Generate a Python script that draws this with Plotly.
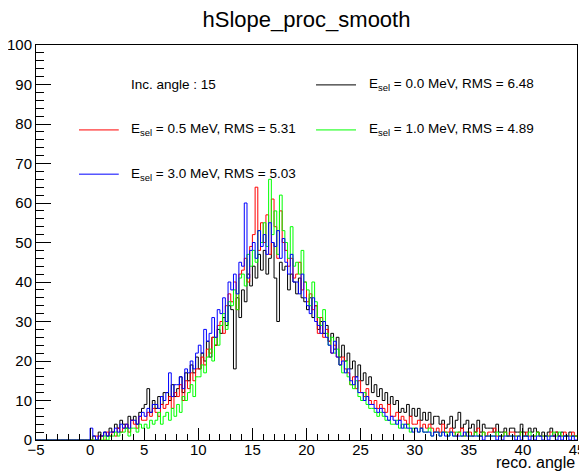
import numpy as np
import plotly.graph_objects as go

# histogram range -5..45, bins of 0.25; values below 0 are empty
x_min, x_max, bin_w = -5.0, 45.0, 0.25

# counts per bin for x = 0 .. 45 (4 bins per unit)
e00 = [
    0, 1, 0, 2, 1, 2, 1, 3, 2, 4, 3, 5, 4, 3, 6, 5,
    6, 4, 7, 8, 9, 13, 7, 10, 8, 11, 9, 12, 12, 10, 14, 11,
    13, 16, 12, 17, 15, 19, 17, 21, 18, 22, 20, 25, 21, 26, 24, 28,
    27, 31, 29, 34, 33, 18, 36, 31, 38, 35, 42, 39, 44, 41, 47, 43,
    48, 42, 46, 50, 41, 30, 45, 43, 44, 38, 42, 40, 37, 41, 36, 35,
    33, 36, 31, 34, 28, 30, 27, 29, 25, 27, 23, 26, 21, 24, 20, 22,
    18, 20, 16, 19, 15, 17, 14, 16, 12, 14, 11, 13, 10, 12, 9, 11,
    9, 10, 7, 8, 7, 9, 6, 8, 6, 8, 5, 7, 5, 7, 4, 6,
    6, 4, 5, 3, 4, 6, 3, 5, 7, 3, 4, 5, 3, 4, 2, 5,
    2, 4, 3, 3, 3, 2, 4, 2, 2, 3, 1, 3, 3, 2, 2, 4,
    2, 1, 3, 2, 3, 2, 1, 2, 1, 2, 3, 1, 2, 1, 2, 1,
    1, 2, 1, 1,
]
e05 = [
    0, 0, 1, 0, 1, 0, 2, 1, 2, 1, 3, 2, 3, 4, 2, 5,
    4, 3, 6, 5, 5, 7, 6, 8, 7, 6, 9, 8, 9, 11, 8, 12,
    11, 14, 10, 15, 13, 17, 15, 18, 18, 21, 19, 23, 22, 26, 24, 29,
    30, 27, 34, 37, 35, 40, 33, 42, 43, 46, 40, 49, 52, 64, 48, 55,
    50, 57, 47, 61, 54, 46, 58, 50, 48, 44, 46, 41, 42, 45, 38, 40,
    35, 37, 33, 34, 27, 31, 26, 28, 25, 22, 24, 21, 19, 21, 18, 17,
    14, 16, 13, 15, 12, 11, 13, 10, 9, 10, 8, 9, 8, 7, 9, 6,
    6, 7, 5, 6, 5, 4, 6, 4, 4, 5, 3, 4, 3, 4, 3, 2,
    3, 2, 4, 2, 2, 3, 2, 1, 2, 3, 1, 2, 2, 1, 2, 3,
    1, 2, 1, 2, 2, 3, 1, 1, 1, 2, 1, 2, 2, 1, 1, 2,
    1, 2, 1, 1, 1, 2, 1, 1, 1, 1, 2, 1, 2, 1, 1, 2,
    1, 1, 2, 1,
]
e10 = [
    0, 0, 0, 0, 0, 1, 0, 1, 1, 2, 1, 2, 2, 3, 1, 3,
    3, 2, 4, 3, 4, 3, 5, 4, 5, 7, 4, 6, 7, 5, 8, 6,
    9, 7, 11, 10, 12, 14, 11, 16, 16, 19, 17, 21, 23, 20, 26, 24,
    29, 32, 28, 35, 34, 38, 33, 41, 42, 39, 47, 44, 48, 45, 53, 50,
    55, 49, 66, 52, 58, 47, 62, 53, 50, 46, 54, 44, 45, 42, 48, 40,
    38, 34, 40, 35, 31, 29, 33, 27, 24, 26, 22, 23, 19, 17, 20, 16,
    14, 13, 15, 11, 10, 12, 9, 8, 8, 7, 6, 7, 6, 5, 5, 4,
    4, 5, 3, 4, 3, 4, 2, 3, 3, 2, 3, 2, 2, 3, 1, 2,
    2, 1, 2, 2, 1, 2, 1, 2, 2, 1, 1, 2, 1, 1, 2, 1,
    1, 2, 1, 1, 1, 1, 2, 1, 1, 2, 1, 1, 1, 1, 1, 2,
    1, 1, 2, 1, 1, 2, 1, 1, 1, 1, 1, 2, 1, 2, 1, 1,
    1, 1, 1, 1,
]
e30 = [
    3, 1, 0, 1, 1, 2, 1, 2, 2, 3, 2, 4, 3, 4, 3, 5,
    5, 4, 6, 7, 6, 8, 7, 9, 9, 8, 11, 10, 12, 17, 11, 14,
    14, 16, 13, 18, 17, 20, 18, 22, 24, 22, 28, 25, 27, 31, 26, 33,
    32, 36, 30, 40, 38, 42, 37, 45, 44, 60, 41, 48, 50, 46, 53, 49,
    52, 47, 55, 50, 49, 53, 46, 51, 45, 42, 47, 40, 40, 37, 42, 36,
    34, 32, 36, 30, 29, 27, 30, 26, 24, 22, 25, 21, 19, 20, 17, 18,
    15, 14, 16, 12, 12, 10, 11, 9, 9, 8, 7, 8, 7, 6, 5, 6,
    5, 4, 5, 3, 4, 3, 3, 2, 3, 2, 3, 2, 2, 2, 1, 2,
    2, 1, 2, 1, 1, 2, 1, 1, 1, 1, 2, 1, 1, 1, 1, 1,
    1, 0, 1, 1, 1, 1, 0, 1, 0, 1, 1, 1, 1, 0, 1, 0,
    1, 1, 0, 1, 0, 1, 1, 0, 1, 0, 1, 1, 0, 1, 0, 1,
    1, 0, 1, 0,
]

series = [
    ("E<sub>sel</sub> = 0.0 MeV, RMS = 6.48", e00, "#000000"),
    ("E<sub>sel</sub> = 0.5 MeV, RMS = 5.31", e05, "#ff0000"),
    ("E<sub>sel</sub> = 1.0 MeV, RMS = 4.89", e10, "#00ff00"),
    ("E<sub>sel</sub> = 3.0 MeV, RMS = 5.03", e30, "#0000ff"),
]

n_empty = int(round((0 - x_min) / bin_w))
edges = np.arange(x_min, x_max + bin_w / 2, bin_w)

fig = go.Figure()
for name, counts, color in series:
    y = [0] * n_empty + list(counts)
    y = y + [y[-1]]
    fig.add_trace(go.Scatter(
        x=edges, y=y, mode="lines", line=dict(color=color, width=1, shape="hv"),
        name=name, showlegend=False, hoverinfo="skip",
    ))

font = "Liberation Sans, Arial, sans-serif"

# ROOT-style legend drawn by hand (two columns)
legend_items = [
    # (line x0, line x1, text x, y, text, colour)
    (None, None, 0.172, 0.899, "Inc. angle : 15", None),
    (0.5176, 0.5915, 0.611, 0.899, series[0][0], series[0][2]),
    (0.0795, 0.153, 0.172, 0.785, series[1][0], series[1][2]),
    (0.5176, 0.5915, 0.611, 0.785, series[2][0], series[2][2]),
    (0.0795, 0.153, 0.172, 0.673, series[3][0], series[3][2]),
]
for x0, x1, tx, ty, text, color in legend_items:
    if x0 is not None:
        fig.add_shape(type="line", xref="paper", yref="paper", x0=x0, x1=x1,
                      y0=ty, y1=ty, line=dict(color=color, width=1))
    fig.add_annotation(xref="paper", yref="paper", x=tx, y=ty, text=text,
                       showarrow=False, xanchor="left", yanchor="middle",
                       font=dict(family=font, size=13.5, color="black"))

fig.add_annotation(xref="paper", yref="paper", x=1.0, y=-0.058, text="reco. angle",
                   showarrow=False, xanchor="right", yanchor="middle",
                   font=dict(family=font, size=16, color="black"))

# the page body has an 8px margin, so the figure is 8px smaller than the window
fig.update_layout(
    width=579, height=467,
    margin=dict(l=28, r=10, t=37, b=35, autoexpand=False),
    paper_bgcolor="white", plot_bgcolor="white",
    font=dict(family=font, size=15, color="black"),
    title=dict(text="hSlope_proc_smooth", xref="paper", x=0.5, xanchor="center",
               yref="container", y=0.976, yanchor="middle",
               font=dict(family=font, size=22)),
    showlegend=False,
)
fig.update_xaxes(
    range=[x_min, x_max], dtick=5, tick0=-5, ticks="inside", ticklen=12,
    tickcolor="black", showline=True, linecolor="black", linewidth=1,
    mirror=True, showgrid=False, zeroline=False, automargin=False,
    ticklabelstandoff=-4,
    minor=dict(dtick=1, ticks="inside", ticklen=6, tickcolor="black", showgrid=False),
)
fig.update_yaxes(
    range=[0, 100], dtick=10, ticks="inside", ticklen=15,
    tickcolor="black", showline=True, linecolor="black", linewidth=1,
    mirror=True, showgrid=False, zeroline=False, automargin=False,
    minor=dict(dtick=2, ticks="inside", ticklen=8, tickcolor="black", showgrid=False),
)

fig.write_html("out.html")
